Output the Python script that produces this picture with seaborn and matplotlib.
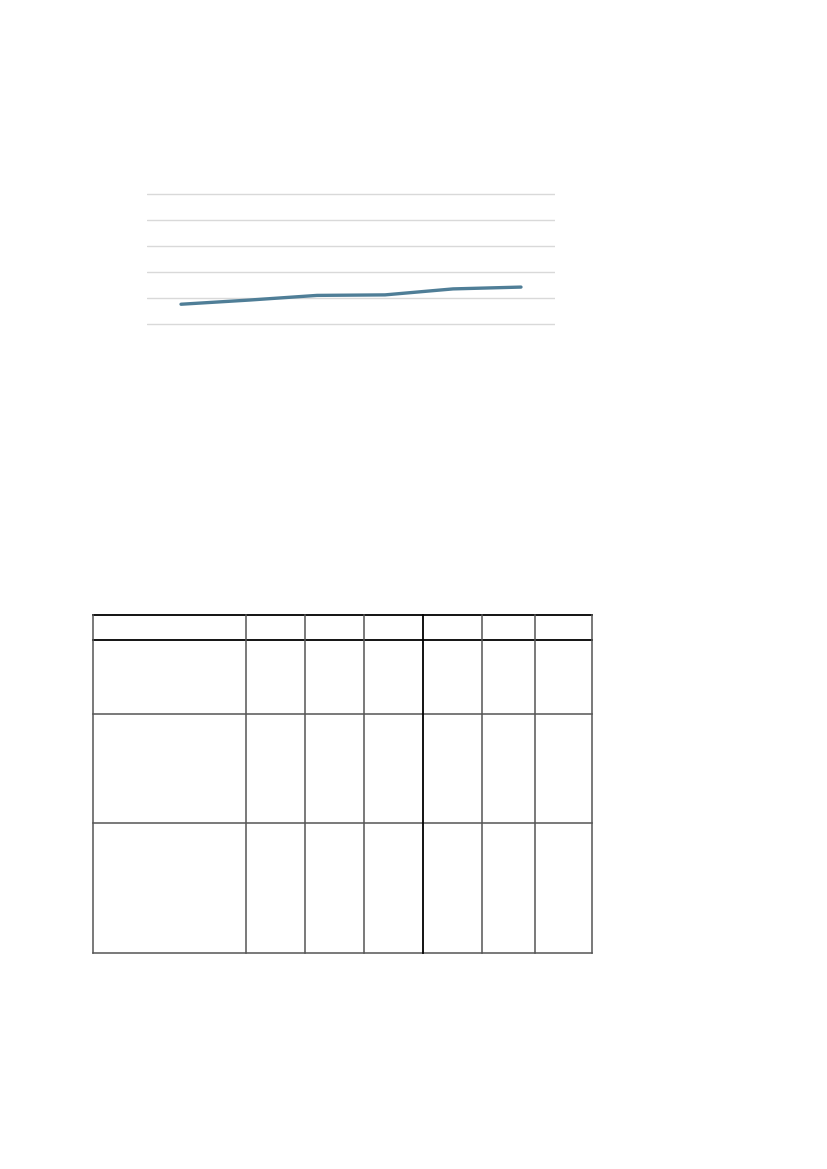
import matplotlib
matplotlib.use("Agg")
import matplotlib.pyplot as plt
import seaborn as sns
import pandas as pd

# ---- data ----
categories = ["A", "B", "C", "D", "E", "F"]
values = [7.6, 9.2, 11.0, 11.2, 13.5, 14.2]
y_ticks = [0, 10, 20, 30, 40, 50]

# table structure (empty table), columns/rows in page pixels
table_cols = [93.3, 246.3, 305.3, 364.3, 423.3, 482.3, 535.3, 592.3]
table_rows = [615.3, 640.3, 714.0, 823.3, 953.0]

W, H = 827, 1169
sns.set_theme(style="white")
fig = plt.figure(figsize=(W / 100, H / 100), dpi=100)
fig.patch.set_facecolor("white")

# ---- line chart ----
px_per_unit = 130 / 50
pad = 4
top_px, bot_px = 194 - pad, 324 + pad
left_px, right_px = 147, 555
ax = fig.add_axes([left_px / W, 1 - bot_px / H, (right_px - left_px) / W, (bot_px - top_px) / H])
df = pd.DataFrame({"cat": categories, "val": values})
sns.lineplot(data=df, x="cat", y="val", ax=ax, color="#4f7e97", linewidth=2.4,
             solid_capstyle="round", sort=False)
ax.set_xlim(-0.5, len(categories) - 0.5)
ax.set_ylim(-pad / px_per_unit, 50 + pad / px_per_unit)
ax.set_yticks(y_ticks)
ax.yaxis.grid(True, color="#d9d9d9", linewidth=1.0)
ax.xaxis.grid(False)
ax.set_axisbelow(True)
ax.tick_params(left=False, bottom=False, labelleft=False, labelbottom=False)
ax.set_xlabel("")
ax.set_ylabel("")
for s in ax.spines.values():
    s.set_visible(False)
ax.patch.set_alpha(0)

# ---- empty table ----
tax = fig.add_axes([0, 0, 1, 1])
tax.set_xlim(0, W)
tax.set_ylim(H, 0)
tax.axis("off")
x0, x1 = table_cols[0], table_cols[-1]
y0, y1 = table_rows[0], table_rows[-1]
gray = "#555555"
for i, y in enumerate(table_rows):
    c = "black" if i in (0, 1) else gray
    tax.plot([x0, x1], [y, y], color=c, linewidth=1.3 if c == "black" else 1.1, solid_capstyle="projecting")
for j, x in enumerate(table_cols):
    c = "black" if j == 4 else gray
    tax.plot([x, x], [y0, y1], color=c, linewidth=1.3 if c == "black" else 1.1, solid_capstyle="projecting")

fig.savefig("out.png", dpi=100)
